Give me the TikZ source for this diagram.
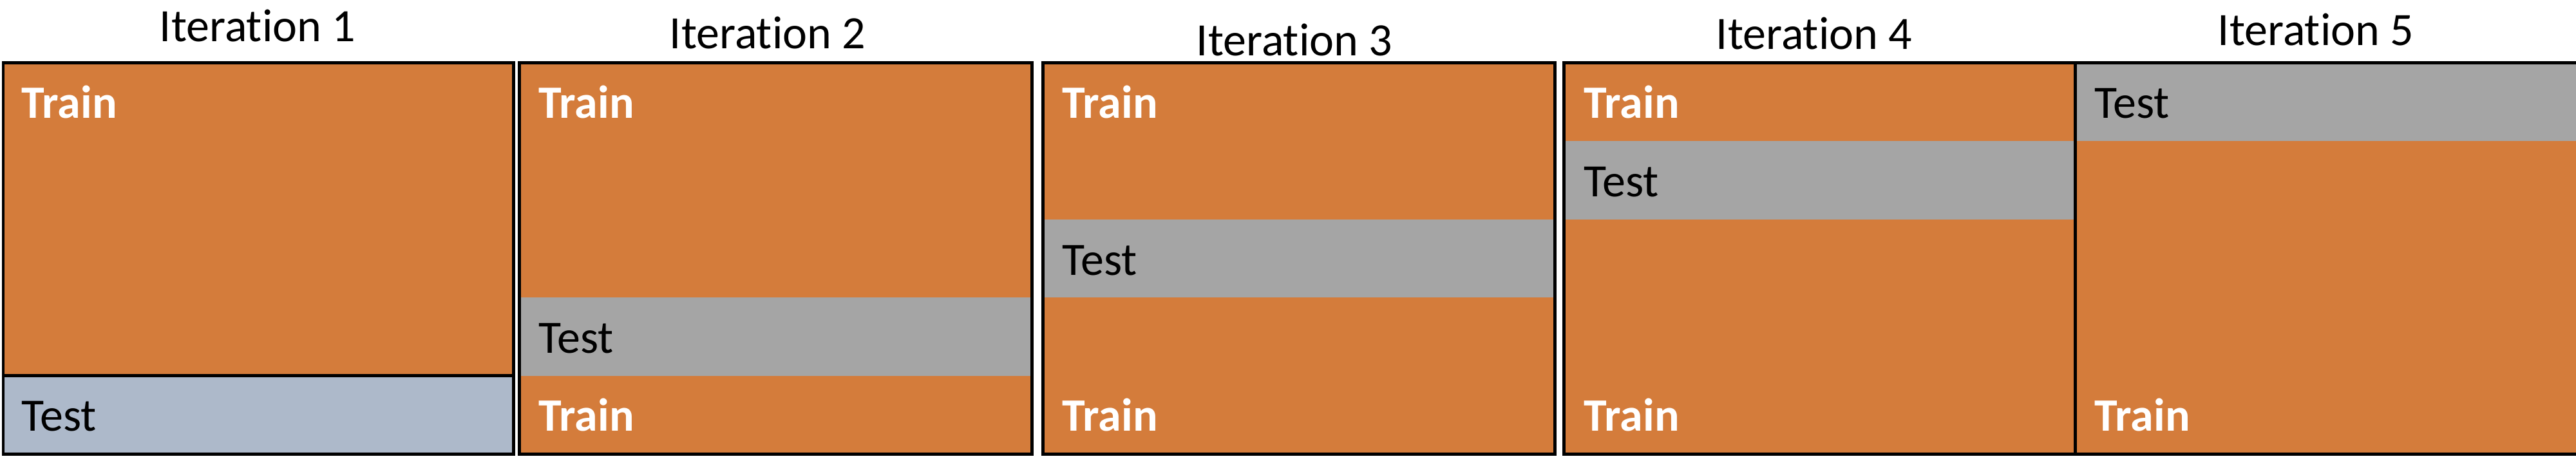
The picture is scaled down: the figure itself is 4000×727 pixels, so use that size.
\documentclass[tikz,border=0pt]{standalone}
\usepackage{fontspec}
\setmainfont{Carlito}[Ligatures={NoCommon,NoContextual}]
\usepackage{tikz}
\definecolor{trainorange}{RGB}{212,124,59}
\definecolor{testgray}{RGB}{165,165,165}
\definecolor{testblue}{RGB}{173,185,202}
\newcommand{\lblsize}{\fontsize{20.5}{24}\selectfont}
\tikzset{
  trainpart/.style = {fill=trainorange},
  testpart/.style  = {fill=testgray},
  firsttest/.style = {fill=testblue},
  frame/.style     = {draw=black, line width=0.5mm},
  trainlbl/.style  = {anchor=base west, inner sep=0pt, text=white, font=\lblsize\bfseries},
  testlbl/.style   = {anchor=base west, inner sep=0pt, text=black, font=\lblsize},
  itertitle/.style = {anchor=base, inner sep=0pt, font=\lblsize}
}
\begin{document}
\begin{tikzpicture}[x=0.1mm, y=-0.1mm]
  \useasboundingbox (0,0) rectangle (4000,727);

  % Iteration 1
  \fill[trainpart] (5,97.4) rectangle (797,583.8);
  \fill[firsttest] (5,583.8) rectangle (797,705.4);
  \draw[frame] (5,97.4) rectangle (797,583.8);
  \draw[frame] (5,583.8) rectangle (797,705.4);
  \node[itertitle] (t1) at (400,65) {Iteration 1};
  \node[trainlbl] (tr1) at (33,184) {Train};
  \node[testlbl] (te1) at (33,669) {Test};

  % Iteration 2
  \fill[trainpart] (806,97.4) rectangle (1602,705.4);
  \fill[testpart] (806,462.2) rectangle (1602,583.8);
  \draw[frame] (806,97.4) rectangle (1602,705.4);
  \node[itertitle] (t2) at (1192,76) {Iteration 2};
  \node[trainlbl] (tr2a) at (836,184) {Train};
  \node[testlbl] (te2) at (836,548) {Test};
  \node[trainlbl] (tr2b) at (836,669) {Train};

  % Iteration 3
  \fill[trainpart] (1619,97.4) rectangle (2414,705.4);
  \fill[testpart] (1619,340.6) rectangle (2414,462.2);
  \draw[frame] (1619,97.4) rectangle (2414,705.4);
  \node[itertitle] (t3) at (2010,87) {Iteration 3};
  \node[trainlbl] (tr3a) at (1649,184) {Train};
  \node[testlbl] (te3) at (1649,427) {Test};
  \node[trainlbl] (tr3b) at (1649,669) {Train};

  % Iteration 4
  \fill[trainpart] (2428,97.4) rectangle (3222,705.4);
  \fill[testpart] (2428,219) rectangle (3222,340.6);
  \draw[frame] (2428,97.4) rectangle (3222,705.4);
  \node[itertitle] (t4) at (2817,77) {Iteration 4};
  \node[trainlbl] (tr4a) at (2459,184) {Train};
  \node[testlbl] (te4) at (2459,306) {Test};
  \node[trainlbl] (tr4b) at (2459,669) {Train};

  % Iteration 5
  \fill[trainpart] (3222,97.4) rectangle (4010,705.4);
  \fill[testpart] (3222,97.4) rectangle (4010,219);
  \draw[frame] (3222,97.4) rectangle (4010,705.4);
  \node[itertitle] (t5) at (3596,71) {Iteration 5};
  \node[testlbl] (te5) at (3252,184) {Test};
  \node[trainlbl] (tr5) at (3252,669) {Train};
\end{tikzpicture}
\end{document}
